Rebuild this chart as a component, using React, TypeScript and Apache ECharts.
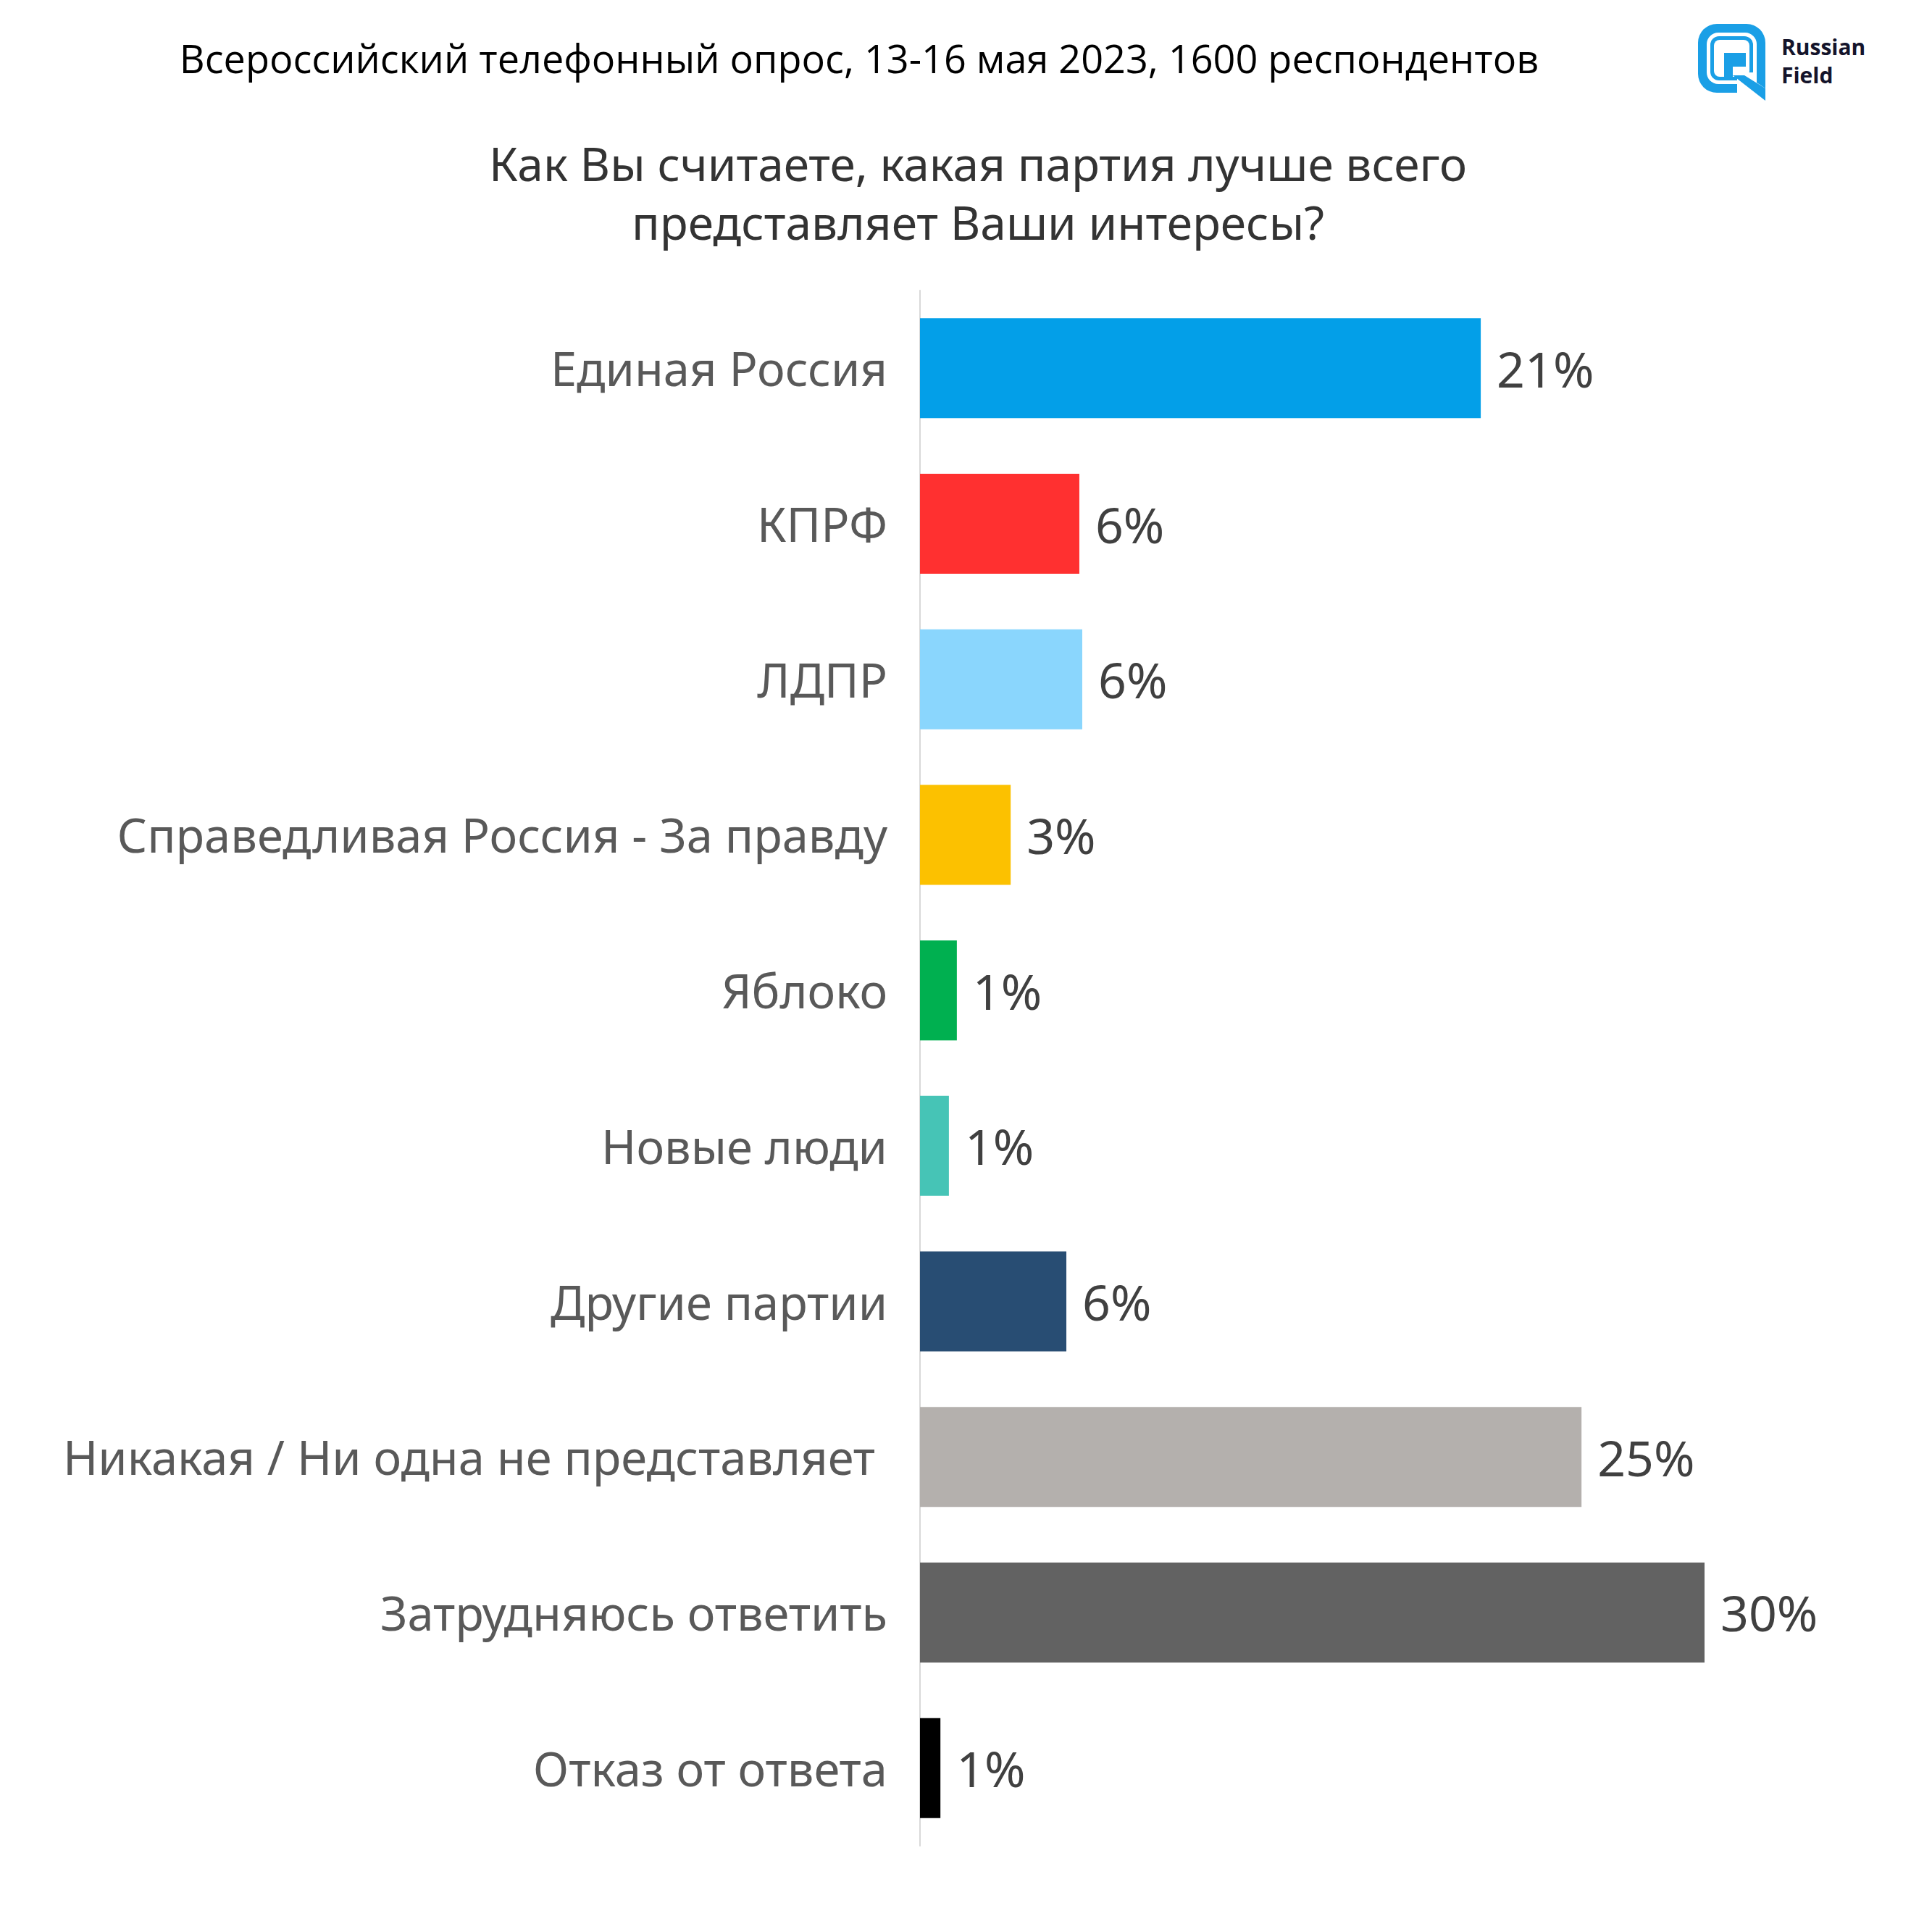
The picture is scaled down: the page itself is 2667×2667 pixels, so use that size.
import React, { useEffect, useRef } from "react";
import * as echarts from "echarts";

const categories = [
  "Единая Россия",
  "КПРФ",
  "ЛДПР",
  "Справедливая Россия - За правду",
  "Яблоко",
  "Новые люди",
  "Другие партии",
  "Никакая / Ни одна не представляет ",
  "Затрудняюсь ответить",
  "Отказ от ответа",
];

const values = [21.15, 6.01, 6.12, 3.42, 1.39, 1.09, 5.52, 24.95, 29.59, 0.77];

const barColors = [
  "#039FE8",
  "#FF3030",
  "#8AD6FD",
  "#FCC100",
  "#00B050",
  "#46C4B6",
  "#284D73",
  "#B4B0AD",
  "#626262",
  "#000000",
];

const headerText = "Всероссийский телефонный опрос, 13-16 мая 2023, 1600 респондентов";
const questionLines = [
  "Как Вы считаете, какая партия лучше всего",
  "представляет Ваши интересы?",
];

const LABEL_FONT = "'Noto Sans', 'Open Sans', sans-serif";
const LOGO_BLUE = "#1A9FE6";

export default function App() {
  const ref = useRef<HTMLDivElement>(null);

  useEffect(() => {
    if (!ref.current) return;
    const chart = echarts.init(ref.current, null, { renderer: "svg" });

    const option: any = {
      animation: false,
      backgroundColor: "#ffffff",
      grid: { left: 1270, top: 401, width: 1281, height: 2147, containLabel: false },
      xAxis: {
        type: "value",
        min: 0,
        max: 35,
        show: false,
        splitLine: { show: false },
      },
      yAxis: {
        type: "category",
        inverse: true,
        data: categories,
        axisLine: { show: true, lineStyle: { color: "#d9d9d9", width: 2 } },
        axisTick: { show: false },
        splitLine: { show: false },
        axisLabel: {
          fontSize: 65,
          color: "#595959",
          margin: 45,
          fontFamily: LABEL_FONT,
        },
      },
      series: [
        {
          type: "bar",
          barWidth: 138,
          data: values.map((v, i) => ({ value: v, itemStyle: { color: barColors[i] } })),
          label: {
            show: true,
            position: "right",
            distance: 22,
            formatter: (p: any) => Math.round(p.value) + "%",
            fontSize: 68,
            color: "#404040",
            fontFamily: LABEL_FONT,
          },
        },
      ],
      graphic: [
        {
          type: "text",
          x: 1186,
          y: 80,
          style: {
            text: headerText,
            fontSize: 54,
            fontFamily: "'Open Sans', sans-serif",
            fill: "#000000",
            textAlign: "center",
            textVerticalAlign: "middle",
          },
        },
        ...questionLines.map((t, i) => ({
          type: "text",
          x: 1350,
          y: 225 + i * 81,
          style: {
            text: t,
            fontSize: 64,
            fontFamily: LABEL_FONT,
            fill: "#333333",
            textAlign: "center",
            textVerticalAlign: "middle",
          },
        })),
        // logo
        {
          type: "group",
          children: [
            { type: "rect", shape: { x: 2344, y: 33, width: 93, height: 95, r: 26 }, style: { fill: LOGO_BLUE } },
            { type: "rect", shape: { x: 2356, y: 45, width: 69, height: 71, r: 16 }, style: { fill: "#ffffff" } },
            { type: "rect", shape: { x: 2361, y: 50, width: 59, height: 61, r: 12 }, style: { fill: LOGO_BLUE } },
            { type: "rect", shape: { x: 2366, y: 55, width: 49, height: 51, r: 8 }, style: { fill: "#ffffff" } },
            { type: "rect", shape: { x: 2380, y: 73, width: 12, height: 36 }, style: { fill: LOGO_BLUE } },
            { type: "rect", shape: { x: 2380, y: 73, width: 30, height: 19 }, style: { fill: LOGO_BLUE } },
            {
              type: "polygon",
              shape: { points: [[2398, 100], [2442, 100], [2442, 142], [2398, 142]] },
              style: { fill: "#ffffff" },
            },
            {
              type: "polygon",
              shape: { points: [[2392, 104], [2408, 104], [2437, 122], [2437, 139]] },
              style: { fill: LOGO_BLUE },
            },
            {
              type: "polygon",
              shape: { points: [[2425, 100], [2437, 100], [2437, 122], [2425, 114]] },
              style: { fill: LOGO_BLUE },
            },
          ],
        },
        {
          type: "text",
          x: 2459,
          y: 64,
          style: {
            text: "Russian",
            fontSize: 30,
            fontWeight: "bold",
            fontFamily: "'Open Sans', sans-serif",
            fill: "#14142B",
            textAlign: "left",
            textVerticalAlign: "middle",
          },
        },
        {
          type: "text",
          x: 2459,
          y: 103,
          style: {
            text: "Field",
            fontSize: 30,
            fontWeight: "bold",
            fontFamily: "'Open Sans', sans-serif",
            fill: "#14142B",
            textAlign: "left",
            textVerticalAlign: "middle",
          },
        },
      ],
    };

    chart.setOption(option);
    return () => chart.dispose();
  }, []);

  return (
    <div
      ref={ref}
      style={{ position: "absolute", left: 0, top: 0, width: 2667, height: 2667 }}
    />
  );
}
